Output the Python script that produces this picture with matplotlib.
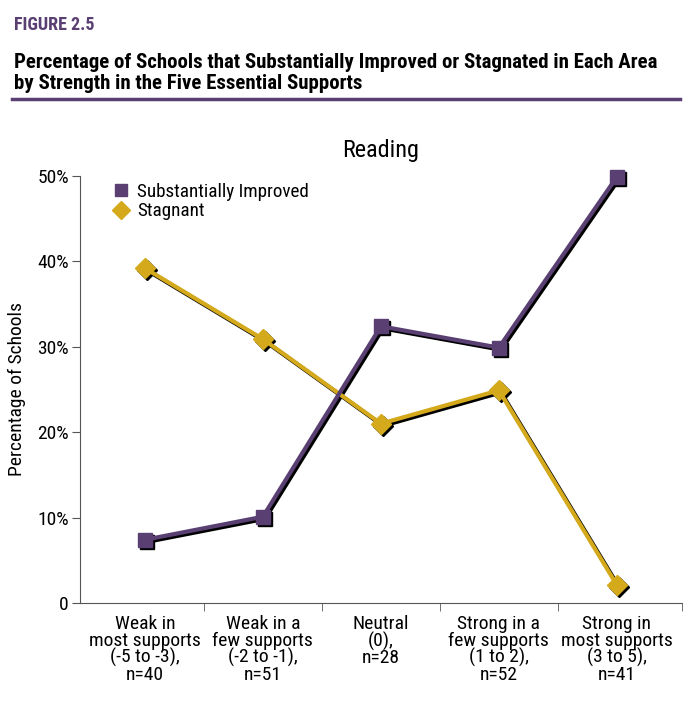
import matplotlib
matplotlib.use("Agg")
import matplotlib.pyplot as plt
import matplotlib.transforms as mtransforms
from matplotlib.lines import Line2D
import numpy as np

categories = ["Weak in\nmost supports\n(-5 to -3),\nn=40",
              "Weak in a\nfew supports\n(-2 to -1),\nn=51",
              "Neutral\n(0),\nn=28",
              "Strong in a\nfew supports\n(1 to 2),\nn=52",
              "Strong in\nmost supports\n(3 to 5),\nn=41"]
improved = [7.4, 10.1, 32.4, 29.9, 49.9]
stagnant = [39.2, 30.9, 21.0, 24.9, 2.1]
yticks = [0, 10, 20, 30, 40, 50]
yticklabels = ["0", "10%", "20%", "30%", "40%", "50%"]

PURPLE = "#5a3f73"
GOLD = "#d4a91c"
FONT = ["Roboto Condensed", "DejaVu Sans"]
plt.rcParams["font.family"] = FONT

fig = plt.figure(figsize=(7, 7.27), dpi=100)
ax = fig.add_axes([0.1143, 0.1706, 0.8597, 0.5873])

x = np.arange(len(categories))
shadow = ax.transData + mtransforms.ScaledTranslation(1.5 / 72, -1.5 / 72, fig.dpi_scale_trans)

for vals, col, mk, ms in [(stagnant, GOLD, "D", 10), (improved, PURPLE, "s", 10)]:
    ax.plot(x, vals, color="black", lw=3, marker=mk, ms=ms, mec="black", transform=shadow, clip_on=False, zorder=2)
    ax.plot(x, vals, color=col, lw=3, marker=mk, ms=ms, mec=col, clip_on=False, zorder=3)

ax.set_xlim(-0.55, 4.55)
ax.set_ylim(0, 50)
ax.set_yticks(yticks)
ax.set_yticklabels(yticklabels, fontsize=14)
ax.set_xticks(x)
ax.set_xticklabels(categories, fontsize=14, linespacing=0.88)
ax.tick_params(axis="x", length=0, pad=9)
ax.set_xticks([0.5, 1.5, 2.5, 3.5, 4.55], minor=True)
ax.tick_params(axis="x", which="minor", length=6, color="#555555")
ax.tick_params(axis="y", length=6, color="#555555", pad=2)
for s in ["top", "right"]:
    ax.spines[s].set_visible(False)
for s in ["left", "bottom"]:
    ax.spines[s].set_color("#555555")
ax.set_ylabel("Percentage of Schools", fontsize=14, labelpad=8)
ax.set_title("Reading", fontsize=17.5, pad=14, x=0.5)

handles = [Line2D([], [], color=PURPLE, marker="s", ls="none", ms=8),
           Line2D([], [], color=GOLD, marker="D", ls="none", ms=9)]
ax.legend(handles, ["Substantially Improved", "Stagnant"], loc="upper left",
          bbox_to_anchor=(0.02, 1.025), frameon=False, fontsize=13.8,
          handletextpad=0.25, labelspacing=0.1, handlelength=1.2)

fig.text(0.02, 0.966, "FIGURE 2.5", fontsize=13, fontweight="bold", color=PURPLE, va="center")
fig.text(0.02, 0.9, "Percentage of Schools that Substantially Improved or Stagnated in Each Area\nby Strength in the Five Essential Supports",
         fontsize=15, fontweight="bold", va="center", linespacing=1.15)
fig.add_artist(Line2D([0.017, 0.972], [0.864, 0.864], color=PURPLE, lw=2.5))

fig.savefig("out.png", dpi=100)
